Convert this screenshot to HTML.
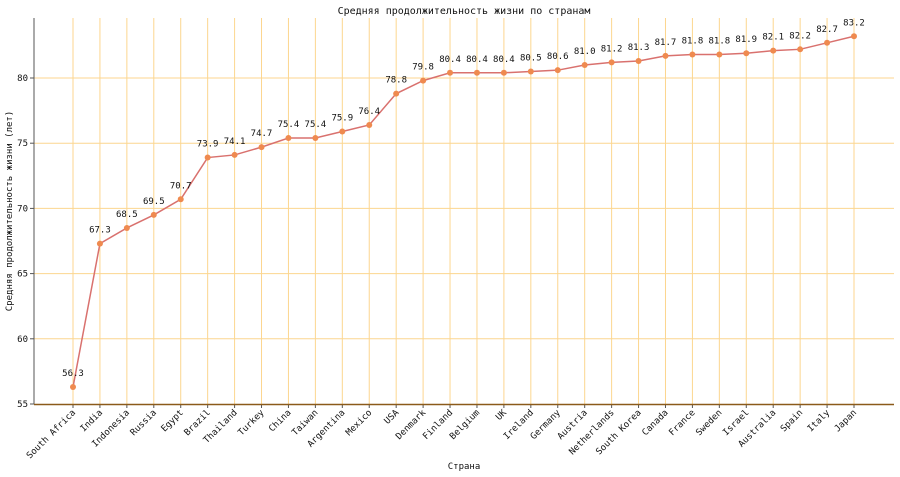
<!DOCTYPE html>
<html><head><meta charset="utf-8"><style>
html,body{margin:0;padding:0;background:#fff;}
svg{display:block;font-family:"DejaVu Sans Mono","Liberation Mono",monospace;}
</style></head><body>
<svg id="c" width="900" height="477" xmlns="http://www.w3.org/2000/svg">
<rect width="900" height="477" fill="#fff"/>
<text x="464" y="14" font-size="10" text-anchor="middle" fill="#111">Средняя продолжительность жизни по странам</text>
<text x="464" y="469" font-size="9" text-anchor="middle" fill="#111">Страна</text>
<text transform="translate(12,211) rotate(-90)" font-size="9" text-anchor="middle" fill="#111">Средняя продолжительность жизни (лет)</text>
<g id="g"></g>
</svg>
<script>
var names=["South Africa","India","Indonesia","Russia","Egypt","Brazil","Thailand","Turkey","China","Taiwan","Argentina","Mexico","USA","Denmark","Finland","Belgium","UK","Ireland","Germany","Austria","Netherlands","South Korea","Canada","France","Sweden","Israel","Australia","Spain","Italy","Japan"];
var vals=[56.3,67.3,68.5,69.5,70.7,73.9,74.1,74.7,75.4,75.4,75.9,76.4,78.8,79.8,80.4,80.4,80.4,80.5,80.6,81.0,81.2,81.3,81.7,81.8,81.8,81.9,82.1,82.2,82.7,83.2];
var s="";
function X(i){return 73+i*(854-73)/29;}
function Y(v){return 404-(v-55)*13.04;}
for(var t=55;t<=80;t+=5){var y=Y(t);
 if(t>55)s+='<line x1="34" x2="894" y1="'+y+'" y2="'+y+'" stroke="#fcd68f" stroke-width="1"/>';
 s+='<line x1="30" x2="34" y1="'+y+'" y2="'+y+'" stroke="#555"/>';
 s+='<text x="28" y="'+(y+3)+'" font-size="9" text-anchor="end" fill="#111">'+t+'</text>';}
for(var i=0;i<30;i++){var x=X(i);
 s+='<line x1="'+x+'" x2="'+x+'" y1="18" y2="404" stroke="#fcd68f" stroke-width="1"/>';
 s+='<line x1="'+x+'" x2="'+x+'" y1="404" y2="408" stroke="#555"/>';
 s+='<text transform="translate('+(x+3)+',413) rotate(-45)" font-size="9" text-anchor="end" fill="#111">'+names[i]+'</text>';}
s+='<line x1="34" x2="34" y1="18" y2="404" stroke="#555" stroke-width="1"/>';
s+='<line x1="34" x2="894" y1="404.5" y2="404.5" stroke="#8b5a1a" stroke-width="1.5"/>';
var p="";for(var i=0;i<30;i++)p+=(i?"L":"M")+X(i)+","+Y(vals[i]);
s+='<path d="'+p+'" fill="none" stroke="#d9716e" stroke-width="1.5"/>';
for(var i=0;i<30;i++){var x=X(i),y=Y(vals[i]);
 s+='<circle cx="'+x+'" cy="'+y+'" r="3" fill="#ef8a4f"/>';
 s+='<text x="'+x+'" y="'+(y-11)+'" font-size="9" text-anchor="middle" fill="#111">'+vals[i].toFixed(1)+'</text>';}
document.getElementById("g").innerHTML=s;
</script>
</body></html>
